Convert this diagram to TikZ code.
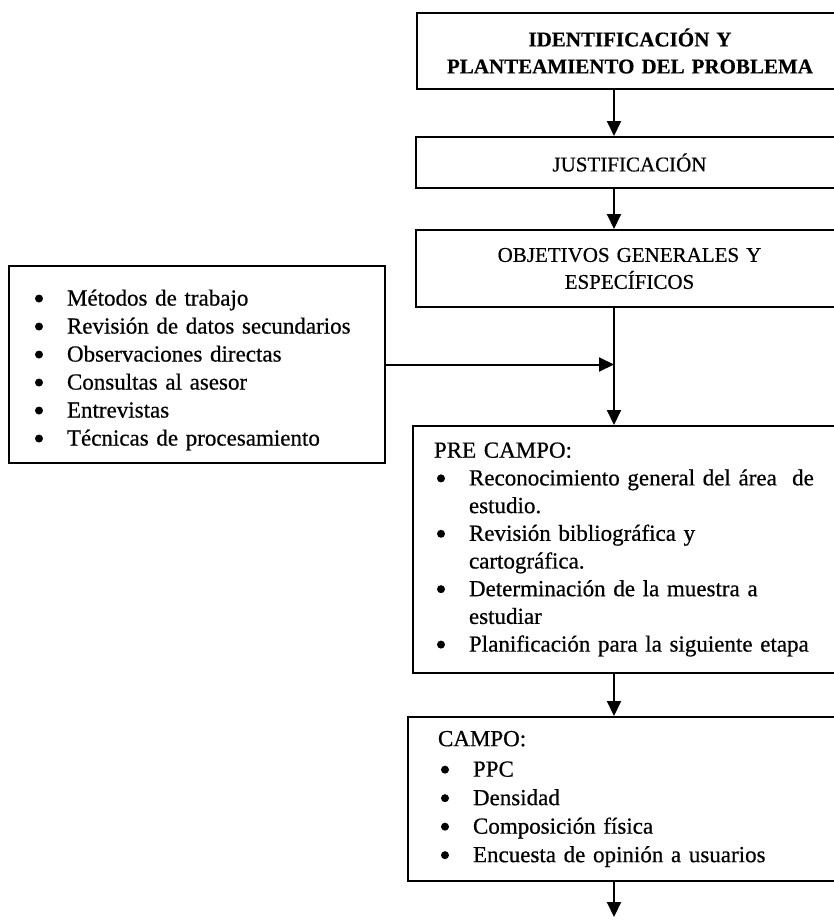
\documentclass[tikz,border=0pt]{standalone}
\usepackage{fontspec}
\setmainfont{Liberation Serif}[UprightFeatures={FakeBold=0.6},BoldFeatures={FakeBold=0.5}]
\usetikzlibrary{arrows.meta}
\newcommand{\dotb}{\tikz[baseline=0pt]\fill (0pt,7pt) circle (4pt);}
\newcommand{\bul}{\makebox[35pt][l]{\hspace{3pt}\dotb}}
\newcommand{\ind}{\hspace*{35pt}}
\begin{document}
\begin{tikzpicture}[x=1pt,y=-1pt,
  box/.style={draw,line width=2pt,anchor=north west,inner ysep=0pt},
  cbox/.style={box,align=center,font=\fontsize{21}{27}\selectfont},
  lbox/.style={box,align=left,font=\fontsize{23}{28}\selectfont},
  arr/.style={line width=2pt,-{Triangle[length=15pt,width=14pt]}}]
\useasboundingbox (0,0) rectangle (834,922);
\clip (0,0) rectangle (834,922);
\node[cbox,font=\fontsize{21}{27}\selectfont\bfseries,minimum height=76pt,text width=400pt,inner xsep=13pt] (b1) at (416,12)
  {IDENTIFICACIÓN Y\\PLANTEAMIENTO DEL PROBLEMA};
\node[cbox,minimum height=51pt,text width=401pt,inner xsep=13pt] (b2) at (415,136)
  {JUSTIFICACIÓN};
\node[cbox,minimum height=77pt,text width=401pt,inner xsep=13pt] (b3) at (415,229)
  {OBJETIVOS GENERALES Y\\ESPECÍFICOS};
\node[lbox,minimum height=197pt,text width=330pt,inner xsep=23pt] (met) at (8,265)
  {\rule{0pt}{27pt}\bul Métodos de trabajo\\
   \bul Revisión de datos secundarios\\
   \bul Observaciones directas\\
   \bul Consultas al asesor\\
   \bul Entrevistas\\
   \bul Técnicas de procesamiento};
\node[lbox,font=\fontsize{23}{27.7}\selectfont,minimum height=247pt,text width=430pt,inner xsep=21pt] (pre) at (412,425)
  {PRE CAMPO:\\
   \bul Reconocimiento general del área\ \ de\\
   \ind estudio.\\
   \bul Revisión bibliográfica y\\
   \ind cartográfica.\\
   \bul Determinación de la muestra a\\
   \ind estudiar\\
   \bul Planificación para la siguiente etapa};
\node[lbox,font=\fontsize{23}{28.5}\selectfont,minimum height=164pt,text width=375pt,inner xsep=30pt] (campo) at (407,716)
  {CAMPO:\\[2pt]
   \bul PPC\\
   \bul Densidad\\
   \bul Composición física\\
   \bul Encuesta de opinión a usuarios};
\coordinate (ax) at (614,0);
\coordinate (fin) at (614,917);
\draw[arr] (b1.south -| ax) -- (b2.north -| ax);
\draw[arr] (b2.south -| ax) -- (b3.north -| ax);
\draw[arr] (b3.south -| ax) -- (pre.north -| ax);
\draw[arr] (met.east) -- (met.east -| ax);
\draw[arr] (pre.south -| ax) -- (campo.north -| ax);
\draw[arr] (campo.south -| ax) -- (fin);
\end{tikzpicture}
\end{document}
